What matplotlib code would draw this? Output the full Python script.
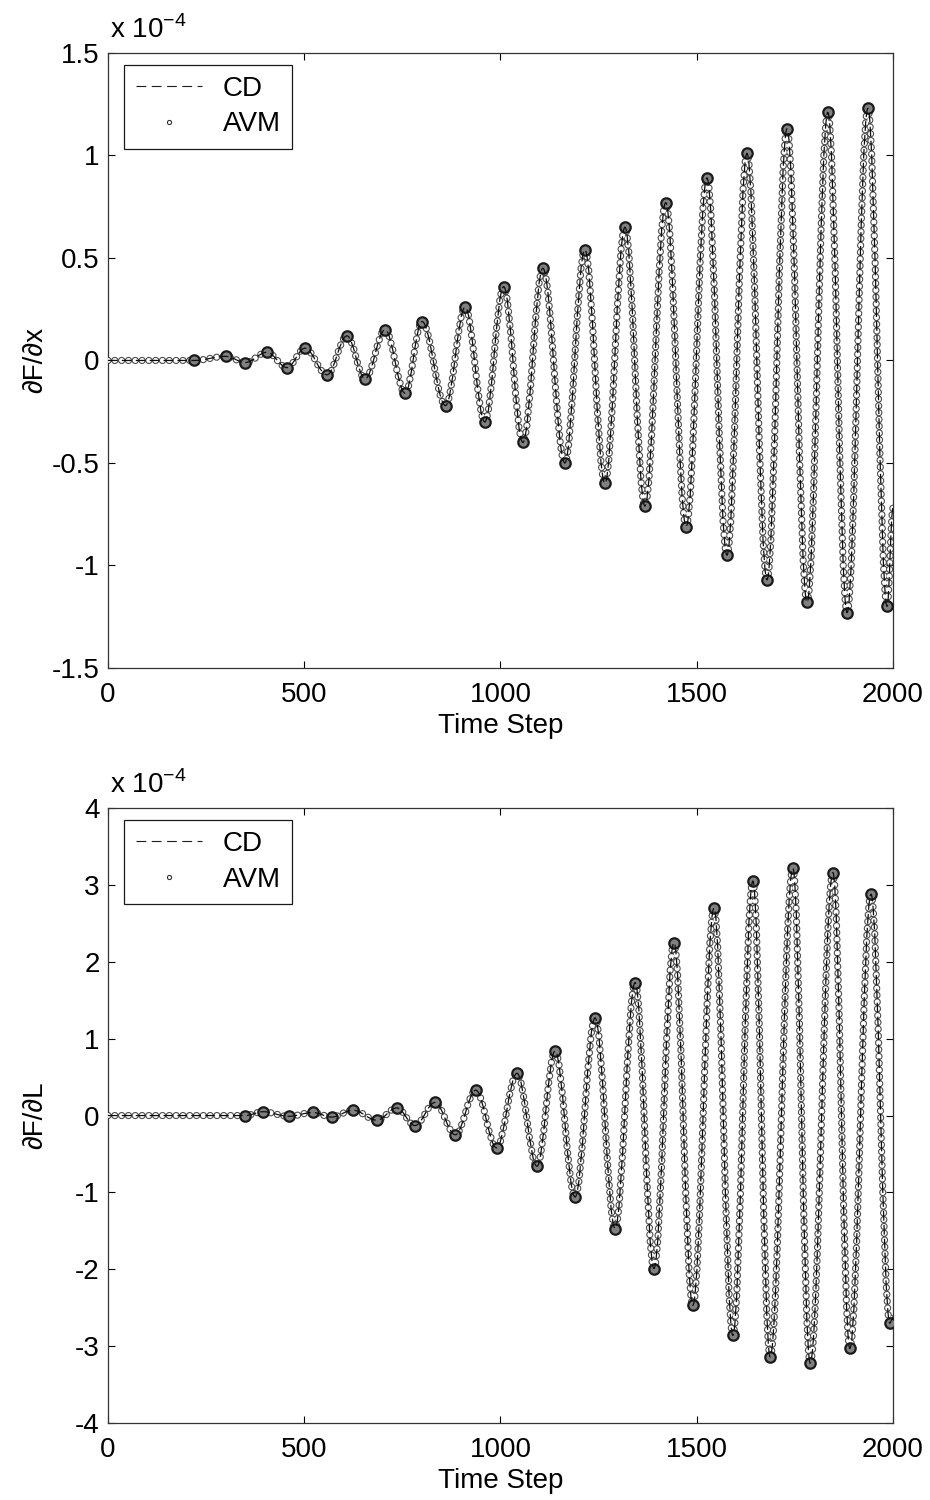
import matplotlib
matplotlib.use("Agg")
import matplotlib.pyplot as plt
from matplotlib.path import Path
from matplotlib.patches import PathPatch
from matplotlib.lines import Line2D
from matplotlib.ticker import FuncFormatter

plt.rcParams['font.family'] = ['Liberation Sans', 'DejaVu Sans']
plt.rcParams['mathtext.fontset'] = 'custom'
plt.rcParams['mathtext.rm'] = 'Liberation Sans'
plt.rcParams['axes.unicode_minus'] = False
plt.rcParams['lines.scale_dashes'] = False

# extrema of the oscillation (time step, value in 1e-4)
dFdx_steps = [0, 220, 300, 350, 405, 456, 502, 558, 609, 655, 706, 757, 800, 860,
              910, 960, 1008, 1057, 1108, 1164, 1215, 1266, 1317, 1368, 1421, 1473,
              1526, 1577, 1628, 1679, 1730, 1781, 1834, 1883, 1936, 1985, 2000]
dFdx_vals = [0, 0, 0.02, -0.01, 0.04, -0.035, 0.06, -0.07, 0.12, -0.09, 0.15, -0.16,
             0.19, -0.22, 0.26, -0.30, 0.36, -0.40, 0.45, -0.50, 0.54, -0.60, 0.65,
             -0.71, 0.77, -0.81, 0.89, -0.95, 1.01, -1.07, 1.13, -1.18, 1.21, -1.23,
             1.23, -1.20, -0.72]

dFdL_steps = [0, 350, 395, 460, 522, 570, 624, 685, 736, 782, 833, 885, 937, 990,
              1042, 1093, 1139, 1190, 1241, 1292, 1343, 1391, 1442, 1490, 1544, 1592,
              1643, 1687, 1745, 1789, 1847, 1890, 1944, 1992, 2000]
dFdL_vals = [0, 0, 0.05, -0.01, 0.04, -0.02, 0.07, -0.06, 0.10, -0.13, 0.17, -0.25,
             0.33, -0.42, 0.55, -0.66, 0.84, -1.06, 1.27, -1.47, 1.73, -1.99, 2.25,
             -2.47, 2.70, -2.86, 3.05, -3.14, 3.22, -3.22, 3.16, -3.03, 2.88, -2.70,
             -2.62]

x_ticks = [0, 500, 1000, 1500, 2000]
top_yticks = [-1.5, -1, -0.5, 0, 0.5, 1, 1.5]
bot_yticks = [-4, -3, -2, -1, 0, 1, 2, 3, 4]
series_names = ['CD', 'AVM']


def wave_path(xs, ys, c=0.36):
    # cubic bezier pieces with flat tangents at each extremum
    verts = [(xs[0], ys[0])]
    codes = [Path.MOVETO]
    for x0, y0, x1, y1 in zip(xs[:-1], ys[:-1], xs[1:], ys[1:]):
        dx = x1 - x0
        verts += [(x0 + c * dx, y0), (x1 - c * dx, y1), (x1, y1)]
        codes += [Path.CURVE4] * 3
    return Path(verts, codes)


def draw_panel(ax, xs, ys, yticks, ylabel):
    path = wave_path(xs, ys)
    # AVM: chain of open circles (dark dots with white centre)
    gap = 4.8
    outer = PathPatch(path, fill=False, lw=5.2, edgecolor='0.3',
                      linestyle=(0, (0.1, gap)), capstyle='round', zorder=2)
    inner = PathPatch(path, fill=False, lw=3.6, edgecolor='white',
                      linestyle=(0, (0.1, gap)), capstyle='round', zorder=3)
    ax.add_patch(outer)
    ax.add_patch(inner)
    ax.plot(xs[1:-1], ys[1:-1], 'o', ms=7.5, mfc='0.5', mec='0.1', mew=1.6, zorder=4)
    # CD: thin dashed line
    cd = PathPatch(path, fill=False, lw=0.9, edgecolor='0.05',
                   linestyle=(0, (7, 3)), zorder=5)
    ax.add_patch(cd)

    ax.set_xlim(0, 2000)
    ax.set_ylim(yticks[0], yticks[-1])
    ax.set_xticks(x_ticks)
    ax.set_yticks(yticks)
    ax.yaxis.set_major_formatter(FuncFormatter(lambda v, p: '%g' % v))
    ax.tick_params(direction='in', length=5, width=0.8, labelsize=20,
                   top=True, right=True)
    ax.tick_params(axis='x', pad=10)
    ax.tick_params(axis='y', pad=6)
    for s in ax.spines.values():
        s.set_linewidth(0.9)
        s.set_color('0.2')
    ax.set_xlabel('Time Step', fontsize=20, labelpad=4)
    ax.set_ylabel(ylabel, fontsize=20)
    ax.yaxis.set_label_coords(-0.076, 0.5)
    ax.text(0.003, 1.015, r'x 10$^{-4}$', transform=ax.transAxes,
            fontsize=20, ha='left', va='bottom')

    handles = [Line2D([], [], color='0.1', lw=0.8, ls=(0, (7, 4))),
               Line2D([], [], color='0.2', marker='o', ms=3, mfc='none',
                      ls='none', mew=0.8)]
    leg = ax.legend(handles, series_names, loc='upper left',
                    bbox_to_anchor=(0.021, 0.981), fontsize=20, frameon=True,
                    fancybox=False, edgecolor='0.1', framealpha=1,
                    handlelength=2.4, handletextpad=0.75, borderpad=0.4,
                    labelspacing=0.35, borderaxespad=0)
    leg.get_frame().set_linewidth(0.9)


fig = plt.figure(figsize=(9.3, 15), dpi=100)
ax1 = fig.add_axes([0.1161, 0.5547, 0.8441, 0.41])
ax2 = fig.add_axes([0.1161, 0.0513, 0.8441, 0.41])

draw_panel(ax1, dFdx_steps, dFdx_vals, top_yticks, '∂F/∂x')
draw_panel(ax2, dFdL_steps, dFdL_vals, bot_yticks, '∂F/∂L')

fig.savefig('out.png', dpi=100)
